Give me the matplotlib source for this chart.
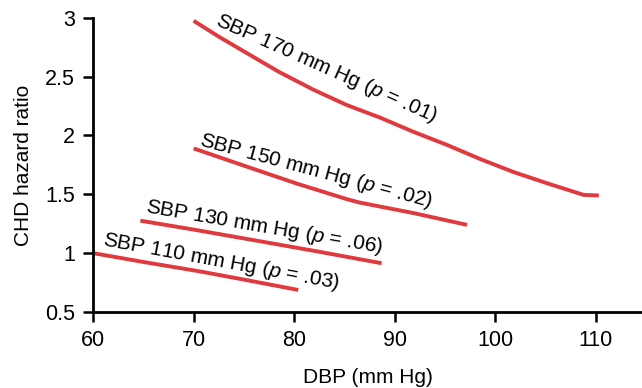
import numpy as np
import matplotlib.pyplot as plt

plt.rcParams['font.family'] = ['Liberation Sans', 'DejaVu Sans']
plt.rcParams['mathtext.fontset'] = 'custom'
plt.rcParams['mathtext.rm'] = 'Liberation Sans'
plt.rcParams['mathtext.it'] = 'Liberation Sans:italic'

# DBP (mm Hg) and CHD hazard ratio
dbp_170 = [70, 72.5, 75.3, 78.5, 81.9, 85.2, 88.6, 91.9, 95.2, 98.5, 101.8, 105.3, 108.8, 110.3]
hr_170 = [2.975, 2.84, 2.70, 2.54, 2.39, 2.26, 2.15, 2.03, 1.92, 1.80, 1.69, 1.59, 1.495, 1.49]
dbp_150 = [70, 75.3, 80.3, 85.2, 86.5, 91.9, 97.2]
hr_150 = [1.89, 1.735, 1.59, 1.46, 1.43, 1.34, 1.24]
dbp_130 = [64.7, 70, 76, 82.6, 88.7]
hr_130 = [1.276, 1.20, 1.11, 1.01, 0.914]
dbp_110 = [60, 65, 70.6, 75, 80.4]
hr_110 = [1.00, 0.925, 0.845, 0.775, 0.687]

labels = ['SBP 170 mm Hg ($p$ = .01)', 'SBP 150 mm Hg ($p$ = .02)',
          'SBP 130 mm Hg ($p$ = .06)', 'SBP 110 mm Hg ($p$ = .03)']
label_pos = [(72.1, 2.94), (70.5, 1.915), (65.2, 1.345), (60.9, 1.065)]
label_rot = [-24, -15, -9.8, -10.5]

red = '#e0393e'

fig = plt.figure(figsize=(6.42, 3.88), dpi=100)
ax = fig.add_axes([0.145, 0.196, 0.855, 0.758])

for xs, ys in [(dbp_170, hr_170), (dbp_150, hr_150), (dbp_130, hr_130), (dbp_110, hr_110)]:
    ax.plot(xs, ys, color=red, lw=2.8, solid_capstyle='butt')

for txt, (x, y), r in zip(labels, label_pos, label_rot):
    ax.text(x, y, txt, rotation=r, rotation_mode='anchor', fontsize=15,
            ha='left', va='baseline')

ax.set_xlim(60, 114.6)
ax.set_ylim(0.5, 3)
ax.set_xticks([60, 70, 80, 90, 100, 110])
ax.set_yticks([0.5, 1, 1.5, 2, 2.5, 3])
ax.set_yticklabels(['0.5', '1', '1.5', '2', '2.5', '3'])
ax.tick_params(labelsize=15.5, width=1.8, length=7, pad=6)
for s in ['top', 'right']:
    ax.spines[s].set_visible(False)
for s in ['left', 'bottom']:
    ax.spines[s].set_linewidth(2)
ax.set_xlabel('DBP (mm Hg)', fontsize=15, labelpad=12)
ax.set_ylabel('CHD hazard ratio', fontsize=15, labelpad=9)

fig.savefig('out.png', dpi=100)
